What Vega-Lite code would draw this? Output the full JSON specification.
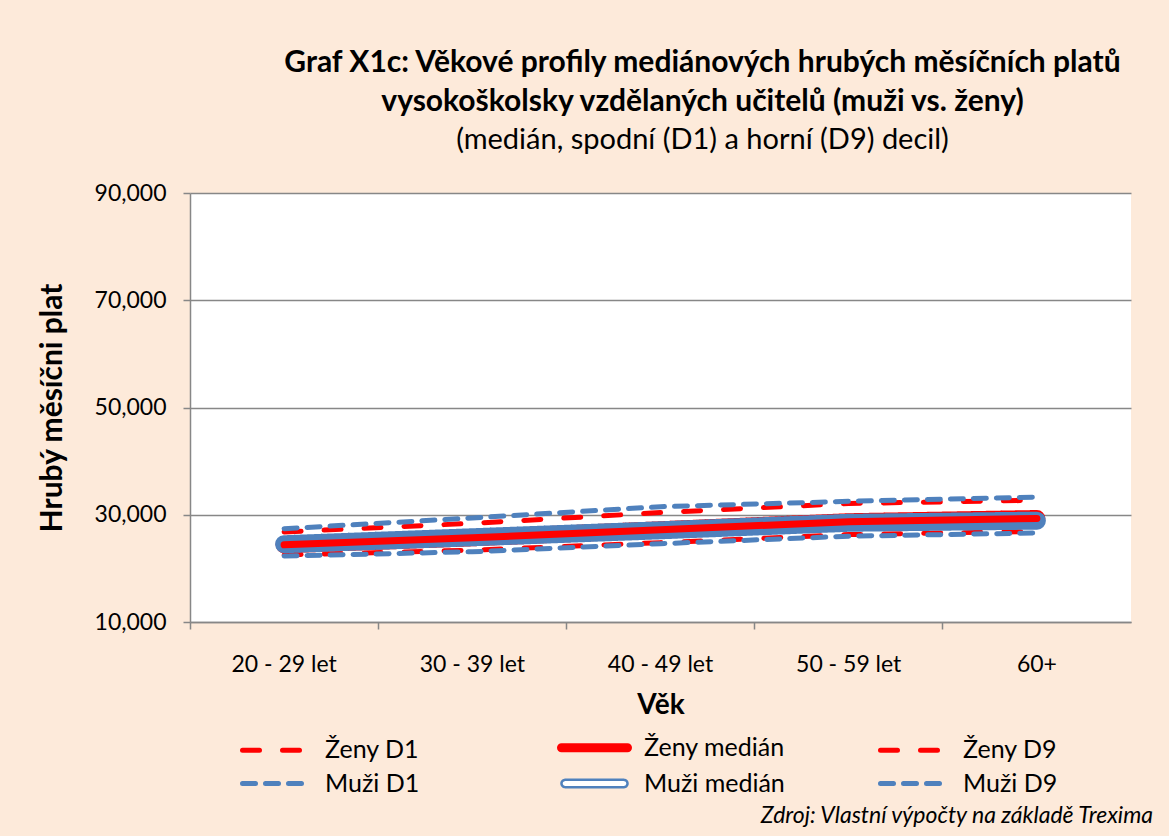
{
  "$schema": "https://vega.github.io/schema/vega-lite/v6.json",
  "width": 941,
  "height": 429,
  "autosize": {"type": "none"},
  "padding": {"left": 190, "top": 193, "right": 38, "bottom": 214},
  "background": "#FDEADA",
  "title": {
    "text": ["Graf X1c: Věkové profily mediánových hrubých měsíčních  platů", "vysokoškolsky vzdělaných učitelů  (muži vs. ženy)"],
    "subtitle": "(medián, spodní (D1) a horní (D9) decil)",
    "anchor": "middle",
    "dx": 42,
    "font": "Lato",
    "fontSize": 30,
    "fontWeight": "bold",
    "lineHeight": 39,
    "color": "black",
    "subtitleFont": "Lato",
    "subtitleFontSize": 29,
    "subtitleFontWeight": "normal",
    "subtitleColor": "black",
    "subtitlePadding": 9,
    "offset": 27
  },
  "datasets": {
    "platy": [
      {"vek": "20 - 29 let", "serie": "Ženy D1", "plat": 22500},
      {"vek": "30 - 39 let", "serie": "Ženy D1", "plat": 23400},
      {"vek": "40 - 49 let", "serie": "Ženy D1", "plat": 24800},
      {"vek": "50 - 59 let", "serie": "Ženy D1", "plat": 26300},
      {"vek": "60+", "serie": "Ženy D1", "plat": 26900},
      {"vek": "20 - 29 let", "serie": "Ženy medián", "plat": 24400},
      {"vek": "30 - 39 let", "serie": "Ženy medián", "plat": 25700},
      {"vek": "40 - 49 let", "serie": "Ženy medián", "plat": 27200},
      {"vek": "50 - 59 let", "serie": "Ženy medián", "plat": 28700},
      {"vek": "60+", "serie": "Ženy medián", "plat": 29300},
      {"vek": "20 - 29 let", "serie": "Ženy D9", "plat": 26800},
      {"vek": "30 - 39 let", "serie": "Ženy D9", "plat": 28400},
      {"vek": "40 - 49 let", "serie": "Ženy D9", "plat": 30400},
      {"vek": "50 - 59 let", "serie": "Ženy D9", "plat": 32100},
      {"vek": "60+", "serie": "Ženy D9", "plat": 32700},
      {"vek": "20 - 29 let", "serie": "Muži D1", "plat": 22300},
      {"vek": "30 - 39 let", "serie": "Muži D1", "plat": 23100},
      {"vek": "40 - 49 let", "serie": "Muži D1", "plat": 24600},
      {"vek": "50 - 59 let", "serie": "Muži D1", "plat": 26000},
      {"vek": "60+", "serie": "Muži D1", "plat": 26600},
      {"vek": "20 - 29 let", "serie": "Muži medián", "plat": 24500},
      {"vek": "30 - 39 let", "serie": "Muži medián", "plat": 25800},
      {"vek": "40 - 49 let", "serie": "Muži medián", "plat": 27100},
      {"vek": "50 - 59 let", "serie": "Muži medián", "plat": 28500},
      {"vek": "60+", "serie": "Muži medián", "plat": 28900},
      {"vek": "20 - 29 let", "serie": "Muži D9", "plat": 27400},
      {"vek": "30 - 39 let", "serie": "Muži D9", "plat": 29400},
      {"vek": "40 - 49 let", "serie": "Muži D9", "plat": 31500},
      {"vek": "50 - 59 let", "serie": "Muži D9", "plat": 32500},
      {"vek": "60+", "serie": "Muži D9", "plat": 33300}
    ],
    "zdroj": [{"text": "Zdroj: Vlastní výpočty na základě Trexima"}]
  },
  "layer": [
    {
      "data": {"name": "platy"},
      "transform": [{"filter": "datum.serie === 'Ženy D1' || datum.serie === 'Ženy D9'"}],
      "mark": {"type": "line", "strokeWidth": 5, "strokeCap": "round"},
      "encoding": {
        "x": {"field": "vek", "type": "nominal", "bandPosition": 0.5, "sort": ["20 - 29 let", "30 - 39 let", "40 - 49 let", "50 - 59 let", "60+"], "scale": {"type": "band", "paddingInner": 0, "paddingOuter": 0},
          "axis": {"title": "Věk", "labelAngle": 0, "bandPosition": 0, "grid": false, "labelPadding": 24, "titlePadding": 15, "titleFontSize": 28}},
        "y": {"field": "plat", "type": "quantitative", "scale": {"domain": [10000, 90000], "nice": false, "zero": false},
          "axis": {"title": "Hrubý měsíčni plat", "values": [10000, 30000, 50000, 70000, 90000], "format": ",d", "grid": true, "labelPadding": 17, "titlePadding": 27, "titleFontSize": 30}},
        "color": {"field": "serie", "type": "nominal",
          "scale": {"domain": ["Ženy D1", "Ženy medián", "Ženy D9", "Muži D1", "Muži medián", "Muži D9"], "range": ["#FF0000", "#FF0000", "#FF0000", "#4F81BD", "#4F81BD", "#4F81BD"]},
          "legend": {"title": null, "orient": "none", "direction": "horizontal", "legendX": 55, "legendY": 542, "columns": 3, "symbolType": "stroke", "symbolSize": 900, "symbolOffset": 18, "gridAlign": "all", "columnPadding": 77, "rowPadding": 5, "labelOffset": 37, "labelFont": "Lato", "labelFontSize": 25, "labelColor": "black", "padding": 0,
            "encode": {"symbols": {"update": {
              "size": {"value": 4356},
              "shape": {"signal": "datum.value === 'Muži medián' ? 'M-0.89,-0.11L0.89,-0.11A0.11,0.11 0 0 1 0.89,0.11L-0.89,0.11A0.11,0.11 0 0 1 -0.89,-0.11Z' : 'stroke'"},
              "fill": {"signal": "datum.value === 'Muži medián' ? 'white' : 'transparent'"},
              "strokeWidth": {"signal": "datum.value === 'Ženy medián' ? 9 : datum.value === 'Muži medián' ? 2.5 : 5"},
              "strokeCap": {"value": "round"}
            }}}}},
        "strokeDash": {"field": "serie", "type": "nominal",
          "scale": {"domain": ["Ženy D1", "Ženy medián", "Ženy D9", "Muži D1", "Muži medián", "Muži D9"], "range": [[17, 23], [1, 0], [17, 23], [13, 10], [1, 0], [13, 10]]}}
      }
    },
    {
      "data": {"name": "platy"},
      "transform": [{"filter": "datum.serie === 'Muži D1' || datum.serie === 'Muži D9'"}],
      "mark": {"type": "line", "strokeWidth": 5, "strokeCap": "round"},
      "encoding": {
        "x": {"field": "vek", "type": "nominal", "bandPosition": 0.5, "sort": ["20 - 29 let", "30 - 39 let", "40 - 49 let", "50 - 59 let", "60+"]},
        "y": {"field": "plat", "type": "quantitative"},
        "color": {"field": "serie", "type": "nominal"},
        "strokeDash": {"field": "serie", "type": "nominal"}
      }
    },
    {
      "data": {"name": "platy"},
      "transform": [{"filter": "datum.serie === 'Ženy medián'"}],
      "mark": {"type": "line", "strokeWidth": 17, "strokeCap": "round", "strokeJoin": "round"},
      "encoding": {
        "x": {"field": "vek", "type": "nominal", "bandPosition": 0.5, "sort": ["20 - 29 let", "30 - 39 let", "40 - 49 let", "50 - 59 let", "60+"]},
        "y": {"field": "plat", "type": "quantitative"},
        "color": {"field": "serie", "type": "nominal"},
        "strokeDash": {"field": "serie", "type": "nominal"}
      }
    },
    {
      "data": {"name": "platy"},
      "transform": [{"filter": "datum.serie === 'Muži medián'"}],
      "mark": {"type": "line", "strokeWidth": 18, "strokeCap": "round", "strokeJoin": "round"},
      "encoding": {
        "x": {"field": "vek", "type": "nominal", "bandPosition": 0.5, "sort": ["20 - 29 let", "30 - 39 let", "40 - 49 let", "50 - 59 let", "60+"]},
        "y": {"field": "plat", "type": "quantitative"},
        "color": {"field": "serie", "type": "nominal"},
        "strokeDash": {"field": "serie", "type": "nominal"}
      }
    },
    {
      "data": {"name": "platy"},
      "transform": [{"filter": "datum.serie === 'Ženy medián'"}],
      "mark": {"type": "line", "strokeWidth": 7, "strokeCap": "round", "strokeJoin": "round", "color": "#FF0000"},
      "encoding": {
        "x": {"field": "vek", "type": "nominal", "bandPosition": 0.5, "sort": ["20 - 29 let", "30 - 39 let", "40 - 49 let", "50 - 59 let", "60+"]},
        "y": {"field": "plat", "type": "quantitative"}
      }
    },
    {
      "data": {"name": "zdroj"},
      "mark": {"type": "text", "font": "Lato", "fontStyle": "italic", "fontSize": 23, "align": "right", "baseline": "middle", "dx": 22, "color": "black"},
      "encoding": {
        "x": {"datum": "60+", "type": "nominal", "bandPosition": 1},
        "y": {"datum": -26100, "type": "quantitative"},
        "text": {"field": "text"}
      }
    }
  ],
  "config": {
    "font": "Lato",
    "view": {"fill": "white", "stroke": null},
    "axis": {"domainColor": "#878787", "domainWidth": 1.5, "tickColor": "#878787", "tickWidth": 1.5, "tickSize": 7, "gridColor": "#878787", "gridWidth": 1.5, "labelFont": "Lato", "labelFontSize": 23, "labelColor": "black", "titleFont": "Lato", "titleFontSize": 25, "titleFontWeight": "bold", "titleColor": "black"}
  }
}
